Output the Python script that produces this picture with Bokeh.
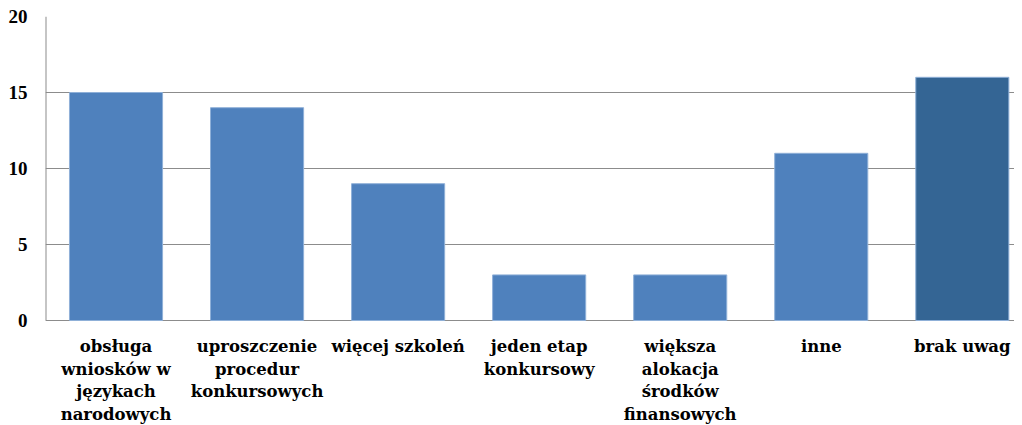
from bokeh.plotting import figure
from bokeh.models import Range1d, ColumnDataSource
from bokeh.core.properties import value
from bokeh.embed import file_html
from bokeh.resources import INLINE

categories = [
    "obsługa\nwniosków w\njęzykach\nnarodowych",
    "uproszczenie\nprocedur\nkonkursowych",
    "więcej szkoleń",
    "jeden etap\nkonkursowy",
    "większa\nalokacja\nśrodków\nfinansowych",
    "inne",
    "brak uwag",
]
values = [15, 14, 9, 3, 3, 11, 16]
colors = ["#4F81BD"] * 6 + ["#346594"]
y_ticks = [0, 5, 10, 15, 20]

# category slots (the source chart is cropped a little at the right edge)
x_pos = [i + 0.5 for i in range(len(categories))]
x_end = len(categories) - 0.13

H = 424
TOP = 16
ZERO_PX = 320          # screen row of value 0
px_per_unit = (ZERO_PX - TOP) / (y_ticks[-1] - y_ticks[0])
y_min = -(H - ZERO_PX) / px_per_unit   # room below 0 for category labels

p = figure(width=1014, height=H, x_range=Range1d(0, x_end),
           y_range=Range1d(y_min, y_ticks[-1]), output_backend="svg",
           toolbar_location=None, min_border_left=45, min_border_right=0,
           min_border_top=TOP, min_border_bottom=0)
p.vbar(x=x_pos, top=values, width=0.66, fill_color=colors,
       line_color="#8fb0d8", line_width=1)

# left axis line, from 0 to 20 only
p.segment(x0=[0], y0=[y_ticks[0]], x1=[0], y1=[y_ticks[-1]],
          line_color="#8c8c8c", line_width=2)

# category labels, one row per text line
lx, ltxt, loff = [], [], []
for xp, c in zip(x_pos, categories):
    for i, line in enumerate(c.split("\n")):
        lx.append(xp)
        ltxt.append(line)
        loff.append(26 + i * 22.5)
lab_src = ColumnDataSource(dict(x=lx, y=[0] * len(lx), text=ltxt, yoff=loff))
p.text(x="x", y="y", text="text", y_offset="yoff", source=lab_src,
       text_font=value("DejaVu Serif"), text_font_style="bold",
       text_font_size="16.5px", text_color="#000000",
       text_align="center", text_baseline="alphabetic")

p.outline_line_color = None
p.xaxis.visible = False
p.xgrid.grid_line_color = None
p.ygrid.grid_line_color = "#8c8c8c"
p.ygrid.grid_line_width = 1
p.yaxis.ticker = y_ticks
p.yaxis.axis_line_color = None
p.yaxis.major_tick_line_color = None
p.yaxis.minor_tick_line_color = None
p.yaxis.major_tick_out = 0
p.yaxis.major_tick_in = 0
p.yaxis.major_label_text_font = "Liberation Serif"
p.yaxis.major_label_text_font_style = "bold"
p.yaxis.major_label_text_font_size = "19px"
p.yaxis.major_label_text_color = "#000000"
p.yaxis.major_label_standoff = 18

open("out.html", "w").write(file_html(p, INLINE))
